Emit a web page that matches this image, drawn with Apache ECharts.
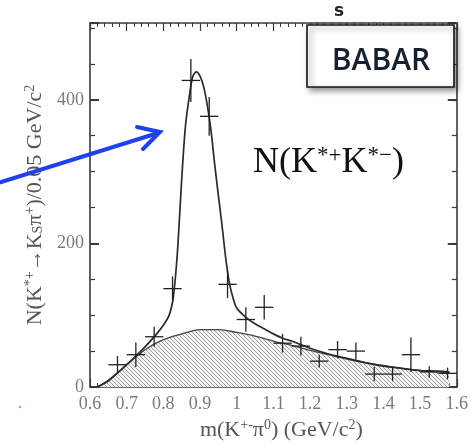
<!DOCTYPE html>
<html><head><meta charset="utf-8">
<script src="https://cdn.jsdelivr.net/npm/echarts@6/dist/echarts.min.js"></script>
<style>html,body{margin:0;padding:0;background:#fff;}#c{width:471px;height:446px;}</style>
</head><body><div id="c"></div>
<script>
// Data points (bin centres, counts, errors)
const ptX = [0.675,0.725,0.775,0.825,0.875,0.925,0.975,1.025,1.075,1.125,1.175,1.225,1.275,1.325,1.375,1.425,1.475,1.525,1.575];
const ptY = [31,45,70,137,427,377,143,94,111,61,57,36,52,50,18,18,45,21,19];
const ptErr = [12,17,14,17,30,27,19,17,17,13,13,9,12,12,10,10,24,8,8];
const binHalf = 0.025;
// Total fit curve
const fitX = [0.62,0.65,0.70,0.75,0.78,0.80,0.815,0.825,0.83,0.835,0.84,0.85,0.86,0.87,0.88,0.89,0.90,0.91,0.92,0.93,0.94,0.95,0.96,0.97,0.98,0.99,1.00,1.025,1.05,1.075,1.10,1.125,1.15,1.175,1.20,1.25,1.30,1.35,1.40,1.45,1.50,1.55,1.58];
const fitY = [0,9,31,56,73,86,99,118,138,165,200,289,362,402,432,439,433,418,392,357,310,267,225,180,145,124,110,97,88,81,74,68,64,59,54,46,40,34,29,26,23,22,21];
// Background curve
const bgX = [0.62,0.65,0.70,0.75,0.80,0.85,0.90,0.95,1.00,1.05,1.10,1.15,1.20,1.25,1.30,1.35,1.40,1.45,1.50,1.55,1.58];
const bgY = [0,8,31,52,66,74,80,80,76,71,64,58,51,45,39,34,30,26,23,21,20];
const yLabels = [0,200,400];

const hatch = document.createElement('canvas');
hatch.width = 4; hatch.height = 4;
(function(){
  const g = hatch.getContext('2d');
  g.fillStyle = '#f4f4f4'; g.fillRect(0,0,4,4);
  g.strokeStyle = '#8a8a8a'; g.lineWidth = 0.8;
  g.beginPath(); g.moveTo(-1,-1); g.lineTo(5,5); g.moveTo(-1,3); g.lineTo(1,5); g.moveTo(3,-1); g.lineTo(5,1); g.stroke();
})();

const chart = echarts.init(document.getElementById('c'), null, {renderer:'canvas'});
const serif = '"Liberation Serif","DejaVu Serif",serif';
const lblColor = '#7a7a7a';
const axLine = {show:true, onZero:false, lineStyle:{color:'#3a3a3a', width:1.6}};
const yMax = 507;
chart.setOption({
  animation:false,
  grid:{left:90, right:13, top:23, bottom:55},
  xAxis:[{
    type:'value', min:0.6, max:1.6, interval:0.1, position:'bottom',
    axisLine:axLine,
    axisTick:{show:true, inside:true, length:8, lineStyle:{color:'#3a3a3a', width:1.2}},
    minorTick:{show:true, splitNumber:5, length:4, lineStyle:{color:'#3a3a3a', width:1}},
    splitLine:{show:false},
    axisLabel:{color:lblColor, fontFamily:serif, fontSize:18, margin:8},
    name:'m(K{sup|+-}π{sup|0}) (GeV/c{sup|2})',
    nameLocation:'middle', nameGap:31,
    nameTextStyle:{color:'#555', fontFamily:serif, fontSize:22, padding:[0,0,0,16],
      rich:{sup:{fontSize:14, fontFamily:serif, color:'#555', padding:[0,0,10,0]}}}
  },{
    type:'value', min:0.6, max:1.6, interval:0.1, position:'top',
    axisLine:axLine,
    axisTick:{show:true, inside:true, length:8, lineStyle:{color:'#3a3a3a', width:1.2}},
    minorTick:{show:true, splitNumber:5, length:4, lineStyle:{color:'#3a3a3a', width:1}},
    splitLine:{show:false}, axisLabel:{show:false}
  }],
  yAxis:[{
    type:'value', min:0, max:yMax, interval:50, position:'left',
    axisLine:axLine,
    axisTick:{show:true, inside:true, length:5, lineStyle:{color:'#3a3a3a', width:1.2}},
    splitLine:{show:false},
    axisLabel:{color:lblColor, fontFamily:serif, fontSize:18, margin:6,
      formatter:v => yLabels.indexOf(v) >= 0 ? String(v) : ''},
    name:'N(K{sup|*+}→K{sub|S}π{sup|+})/0.05 GeV/c{sup|2}',
    nameLocation:'middle', nameRotate:90, nameGap:42,
    nameTextStyle:{color:'#555', fontFamily:serif, fontSize:22,
      rich:{sup:{fontSize:14, fontFamily:serif, color:'#555', padding:[0,0,10,0]},
            sub:{fontSize:14, fontFamily:serif, color:'#555', padding:[0,0,-7,0]}}}
  },{
    type:'value', min:0, max:yMax, interval:200, position:'left',
    axisLine:{show:false}, axisLabel:{show:false}, splitLine:{show:false},
    axisTick:{show:true, inside:true, length:9, lineStyle:{color:'#3a3a3a', width:2}}
  },{
    type:'value', min:0, max:yMax, interval:50, position:'right',
    axisLine:axLine, axisLabel:{show:false}, splitLine:{show:false},
    axisTick:{show:true, inside:true, length:5, lineStyle:{color:'#3a3a3a', width:1.2}}
  },{
    type:'value', min:0, max:yMax, interval:200, position:'right',
    axisLine:{show:false}, axisLabel:{show:false}, splitLine:{show:false},
    axisTick:{show:true, inside:true, length:9, lineStyle:{color:'#3a3a3a', width:2}}
  }],
  series:[{
    type:'line', name:'background', data:bgX.map((x,i)=>[x,bgY[i]]),
    smooth:0.3, showSymbol:false, z:2,
    lineStyle:{color:'#444', width:1.3},
    areaStyle:{color:{image:hatch, repeat:'repeat'}, opacity:1}
  },{
    type:'line', name:'fit', data:fitX.map((x,i)=>[x,fitY[i]]),
    smooth:0.3, showSymbol:false, z:3,
    lineStyle:{color:'#2a2a2a', width:1.7}
  },{
    type:'custom', name:'data', z:4,
    data:ptX.map((x,i)=>[x,ptY[i],ptErr[i]]),
    renderItem:function(params, api){
      const x = api.value(0), y = api.value(1), e = api.value(2);
      const l = api.coord([x-binHalf,y]), r = api.coord([x+binHalf,y]);
      const t = api.coord([x,y+e]), b = api.coord([x,y-e]);
      const st = {stroke:'#222', lineWidth:1.3};
      return {type:'group', children:[
        {type:'line', shape:{x1:l[0],y1:l[1],x2:r[0],y2:r[1]}, style:st},
        {type:'line', shape:{x1:t[0],y1:t[1],x2:b[0],y2:b[1]}, style:st}
      ]};
    }
  }],
  graphic:[
    {type:'rect', z:100, shape:{x:307, y:25, width:147, height:62},
     style:{fill:'#fff', stroke:'#151515', lineWidth:1.6, shadowBlur:6, shadowOffsetX:3, shadowOffsetY:3, shadowColor:'rgba(0,0,0,0.45)'}},
    {type:'text', z:101, x:381, y:61,
     style:{text:'BABAR', font:'600 30px "Open Sans", sans-serif', fill:'#16202e', align:'center', verticalAlign:'middle',
       textShadowColor:'rgba(230,150,60,0.6)', textShadowOffsetX:-1}},
    {type:'text', z:101, x:339, y:12,
     style:{text:'s', font:'bold 17px "DejaVu Sans", sans-serif', fill:'#222', align:'center', verticalAlign:'middle'}},
    {type:'text', z:101, left:253, top:144,
     style:{text:'N(K{s|*+}K{s|*−})', font:'36px "Liberation Serif", serif', fill:'#111',
       rich:{s:{font:'23px "Liberation Serif", serif', fill:'#111', padding:[0,0,15,0]}}}},
    {type:'polyline', z:101, shape:{points:[[-5,184],[158,133]]}, style:{stroke:'#1f40f2', lineWidth:4, fill:null}},
    {type:'polyline', z:101, shape:{points:[[137,127],[160,132],[143,149]]}, style:{stroke:'#1f40f2', lineWidth:4, fill:null, lineJoin:'miter', lineCap:'round'}},
    {type:'circle', z:101, shape:{cx:20, cy:407, r:1.2}, style:{fill:'#8ab'}}
  ]
});
</script>
</body></html>
